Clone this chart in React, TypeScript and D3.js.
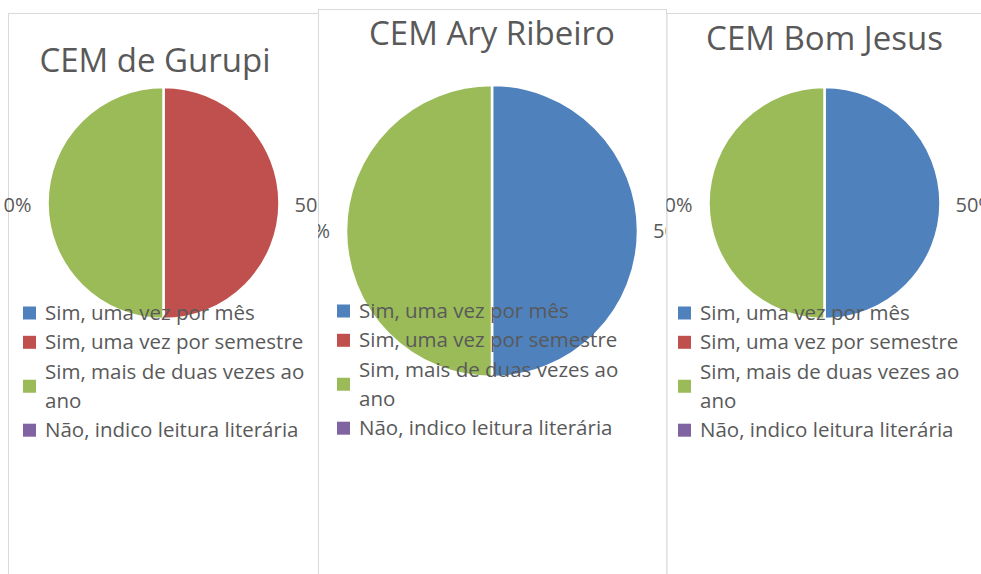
import React from 'react';
import * as d3 from 'd3';

// answer categories, shared by the three schools
const categories = [
  'Sim, uma vez por mês',
  'Sim, uma vez por semestre',
  'Sim, mais de duas vezes ao ano',
  'Não, indico leitura literária'
];
const colors = ['#4F81BD', '#C0504D', '#9BBB59', '#8064A2'];

const schools = ['CEM de Gurupi', 'CEM Ary Ribeiro', 'CEM Bom Jesus'];
const gurupiValues = [0, 50, 50, 0];
const aryValues = [50, 0, 50, 0];
const bomJesusValues = [50, 0, 50, 0];
const leftLabels = ['0%', '0%', '0%'];
const rightLabels = ['50%', '50%', '50%'];

const FONT = '"Open Sans", "Noto Sans", sans-serif';
const TEXT = '#595959';
const BORDER = '#D9D9D9';

// each chart box, as it sits in the screenshot (they overlap)
const layout = [
  { x0: 8, x1: 317.5, top: 13, clip: [3, 317.5], cx: 163.5, cy: 203, r: 116, titleX: 155, titleY: 72, labelY: 212, legendX: 23, legendY: 320 },
  { x0: 318, x1: 666, top: 9, clip: [318, 666], cx: 492, cy: 231, r: 146, titleX: 492, titleY: 45, labelY: 238, legendX: 337, legendY: 318 },
  { x0: 666.5, x1: 990, top: 13, clip: [666.5, 981], cx: 824.5, cy: 203, r: 116, titleX: 824.5, titleY: 50, labelY: 212, legendX: 678, legendY: 320 }
];
const seriesList = [gurupiValues, aryValues, bomJesusValues];

let ctx: CanvasRenderingContext2D | null = null;
function wrap(text: string, size: number, maxW: number) {
  if (!ctx) ctx = document.createElement('canvas').getContext('2d');
  ctx!.font = size + 'px ' + FONT;
  const words = text.split(' ');
  const lines: string[] = [];
  let cur = '';
  words.forEach(w => {
    const t = cur ? cur + ' ' + w : w;
    if (cur && ctx!.measureText(t).width > maxW) { lines.push(cur); cur = w; }
    else cur = t;
  });
  lines.push(cur);
  return lines;
}

function Panel({ i }: { i: number }) {
  const L = layout[i];
  const values = seriesList[i];
  const pie = d3.pie<number>().sort(null).value(d => d);
  const arc = d3.arc<d3.PieArcDatum<number>>().innerRadius(0).outerRadius(L.r);
  const arcs = pie(values);

  const legendSize = 20.5;
  const lineH = 29.3;
  const mark = 13;
  let line = 0;
  const items = categories.map((c, k) => {
    const lines = wrap(c, legendSize, 272);
    const y0 = L.legendY + line * lineH;
    line += lines.length;
    return { c, k, lines, y0 };
  });

  const clipId = 'clip' + i;
  return (
    <g>
      <defs>
        <clipPath id={clipId}>
          <rect x={L.clip[0]} y={0} width={L.clip[1] - L.clip[0]} height={574} />
        </clipPath>
      </defs>
      <rect x={L.x0} y={L.top} width={L.x1 - L.x0} height={600} fill="#fff" />
      <line x1={L.x0 + 0.5} x2={L.x0 + 0.5} y1={L.top} y2={574} stroke={BORDER} />
      <line x1={L.x0} x2={Math.min(L.x1 + 1, 981)} y1={L.top + 0.5} y2={L.top + 0.5} stroke={BORDER} />
      {i === 1 && <line x1={L.x1 + 0.5} x2={L.x1 + 0.5} y1={L.top} y2={574} stroke={BORDER} />}
      <g clipPath={`url(#${clipId})`}>
        <text x={L.titleX} y={L.titleY} textAnchor="middle" fontFamily={FONT} fontSize={33} fill={TEXT}>
          {schools[i]}
        </text>
        <g transform={`translate(${L.cx},${L.cy})`}>
          {arcs.map((a, k) => a.value > 0 && (
            <path key={k} d={arc(a) || ''} fill={colors[k]} stroke="#fff" strokeWidth={2.5} />
          ))}
        </g>
        <text x={L.cx - L.r - 16} y={L.labelY} textAnchor="end" fontFamily={FONT} fontSize={20} fill={TEXT}>
          {leftLabels[i]}
        </text>
        <text x={L.cx + L.r + 15} y={L.labelY} fontFamily={FONT} fontSize={20} fill={TEXT}>
          {rightLabels[i]}
        </text>
        {items.map(it => (
          <g key={it.k}>
            <rect
              x={L.legendX}
              y={it.y0 + ((it.lines.length - 1) * lineH) / 2 - 13.5}
              width={mark}
              height={mark}
              fill={colors[it.k]}
            />
            <text x={L.legendX + mark + 9} y={it.y0} fontFamily={FONT} fontSize={legendSize} fill={TEXT}>
              {it.lines.map((l, j) => (
                <tspan key={j} x={L.legendX + mark + 9} y={it.y0 + j * lineH}>{l}</tspan>
              ))}
            </text>
          </g>
        ))}
      </g>
    </g>
  );
}

export default function App() {
  return (
    <svg width={981} height={574} style={{ position: 'absolute', left: 0, top: 0, background: '#fff' }}>
      <rect width={981} height={574} fill="#fff" />
      {/* middle chart sits underneath, the outer two overlap it */}
      <Panel i={1} />
      <Panel i={0} />
      <Panel i={2} />
    </svg>
  );
}
